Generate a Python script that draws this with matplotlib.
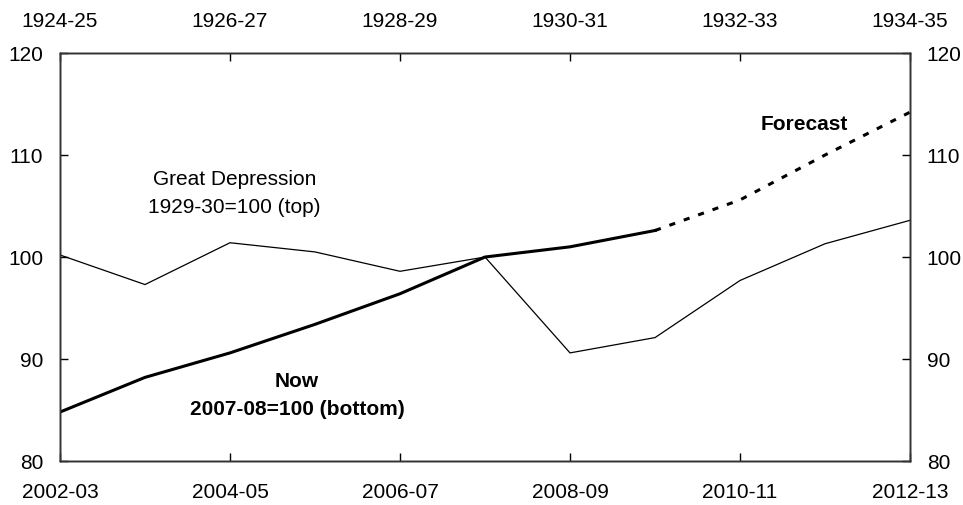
import numpy as np
import matplotlib.pyplot as plt

plt.rcParams['font.family'] = ['Liberation Sans', 'DejaVu Sans']

# year labels (bottom and top axes)
now_years = ['2002-03', '2003-04', '2004-05', '2005-06', '2006-07', '2007-08',
             '2008-09', '2009-10', '2010-11', '2011-12', '2012-13']
gd_years = ['1924-25', '1925-26', '1926-27', '1927-28', '1928-29', '1929-30',
            '1930-31', '1931-32', '1932-33', '1933-34', '1934-35']

# Great Depression index, 1929-30=100
gd_vals = [100.2, 97.3, 101.4, 100.5, 98.6, 100.0, 90.6, 92.1, 97.7, 101.3, 103.6]
# Now index, 2007-08=100 (actual then forecast)
now_vals = [84.8, 88.2, 90.6, 93.4, 96.4, 100.0, 101.0, 102.6]
fc_vals = [102.6, 105.6, 110.0, 114.2]

x = np.arange(len(now_years))
fs = 15

fig = plt.figure(figsize=(9.63, 5.05), dpi=100)
ax = fig.add_axes([0.0623, 0.0871, 0.8827, 0.8079])

ax.plot(x, gd_vals, color='black', lw=0.9)
ax.plot(x[:len(now_vals)], now_vals, color='black', lw=2.2)
ax.plot(x[len(now_vals) - 1:], fc_vals, color='black', lw=2.2, ls=(0, (2, 3)))

ax.set_xlim(0, 10)
ax.set_ylim(80, 120)
ax.set_xticks(x[::2])
ax.set_xticklabels(now_years[::2])
ax.set_yticks([80, 90, 100, 110, 120])

ax.tick_params(axis='x', direction='in', length=6, width=1, labelsize=fs,
               colors='black', pad=16)
ax.tick_params(axis='y', direction='in', length=6, width=1, labelsize=fs,
               colors='black', pad=12)

# top axis for the Great Depression years
ax_top = ax.twiny()
ax_top.set_xlim(ax.get_xlim())
ax_top.set_xticks(x[::2])
ax_top.set_xticklabels(gd_years[::2])
ax_top.tick_params(axis='x', direction='in', length=6, width=1, labelsize=fs, pad=16)

# right axis
ax_r = ax.twinx()
ax_r.set_ylim(ax.get_ylim())
ax_r.set_yticks([80, 90, 100, 110, 120])
ax_r.tick_params(axis='y', direction='in', length=6, width=1, labelsize=fs, pad=12)

for a in (ax, ax_top, ax_r):
    for s in a.spines.values():
        s.set_linewidth(1)
        s.set_color('#333333')

ax.text(2.05, 106.2, 'Great Depression\n1929-30=100 (top)', ha='center', va='center',
        fontsize=fs, linespacing=1.6)
ax.text(2.79, 86.4, 'Now\n2007-08=100 (bottom)', ha='center', va='center',
        fontsize=fs, fontweight='bold', linespacing=1.6)
ax.text(8.76, 113.0, 'Forecast', ha='center', va='center', fontsize=fs,
        fontweight='bold')

plt.savefig('out.png', dpi=100)
plt.close()
